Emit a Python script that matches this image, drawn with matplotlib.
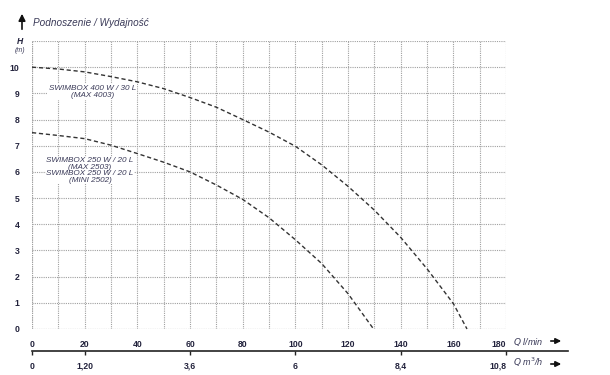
import numpy as np
import matplotlib
matplotlib.use("Agg")
from matplotlib import pyplot as plt
from matplotlib import transforms

plt.rcParams['font.family'] = ['Liberation Sans', 'DejaVu Sans']

# flow in l/min and head in m
q_400 = [0, 10, 20, 30, 40, 50, 60, 70, 80, 90, 100, 110, 120, 130, 140, 150, 160, 165.2]
h_400 = [10, 9.93, 9.82, 9.64, 9.44, 9.18, 8.84, 8.47, 8.0, 7.52, 6.98, 6.27, 5.45, 4.54, 3.5, 2.3, 0.97, 0]

q_250 = [0, 10, 20, 30, 40, 50, 60, 70, 80, 90, 100, 110, 120, 129.7]
h_250 = [7.5, 7.39, 7.27, 7.02, 6.7, 6.37, 6.0, 5.5, 4.95, 4.25, 3.41, 2.5, 1.35, 0]

x_ticks = [0, 20, 40, 60, 80, 100, 120, 140, 160, 180]
m3h_ticks = [0, 1.2, 3.6, 6, 8.4, 10.8]
m3h_labels = ["0", "1,20", "3,6", "6", "8,4", "10,8"]

label_400 = "SWIMBOX 400 W / 30 L\n(MAX 4003)"
label_250 = "SWIMBOX 250 W / 20 L\n(MAX 2503)\nSWIMBOX 250 W / 20 L\n(MINI 2502)"

navy = "#22223c"
txt = "#3a3a58"
gridc = "#a0a0a0"

fig = plt.figure(figsize=(6.1, 3.75), dpi=100)
ax = fig.add_axes([0.0525, 0.1227, 0.777, 0.768])

ax.set_xlim(0, 180)
ax.set_ylim(0, 11)
ax.set_xticks(np.arange(0, 181, 10))
ax.set_yticks(np.arange(0, 12, 1))
ax.grid(True, color=gridc, linestyle=(0, (1, 1)), linewidth=0.8)
for s in ax.spines.values():
    s.set_visible(False)
ax.axhline(0, color=gridc, linestyle=(0, (1, 1)), linewidth=0.8)
ax.axvline(0, color=gridc, linestyle=(0, (1, 1)), linewidth=0.8)

ax.set_xticklabels(["" if v not in x_ticks else str(v) for v in range(0, 181, 10)])
ax.set_yticklabels(["" if v > 10 else str(v) for v in range(12)])
ax.tick_params(axis="both", length=0, labelsize=6.2, labelcolor=navy)
ax.tick_params(axis="x", pad=8)
ax.tick_params(axis="y", pad=9)
for t in ax.get_xticklabels() + ax.get_yticklabels():
    t.set_fontweight("bold")
ax.get_xticklabels()[-1].set_transform(
    ax.get_xticklabels()[-1].get_transform() + transforms.ScaledTranslation(-7 / 100, 0, fig.dpi_scale_trans))

ax.plot(q_400, h_400, color="#333333", linestyle=(0, (3, 2)), linewidth=1.0, clip_on=False)
ax.plot(q_250, h_250, color="#333333", linestyle=(0, (3, 2)), linewidth=1.0, clip_on=False)

ax.text(23, 9.05, label_400, ha="center", va="center", fontsize=5.9, style="italic",
        color=txt, linespacing=1.0,
        bbox=dict(facecolor="white", edgecolor="none", pad=0.5))
ax.text(22, 6.05, label_250, ha="center", va="center", fontsize=5.9, style="italic",
        color=txt, linespacing=0.9,
        bbox=dict(facecolor="white", edgecolor="none", pad=0.5))

# second flow scale in m3/h
sec = ax.secondary_xaxis(-0.075, functions=(lambda x: x * 0.06, lambda x: x / 0.06))
sec.set_xticks(m3h_ticks)
sec.set_xticklabels(m3h_labels)
sec.spines["bottom"].set_visible(False)
sec.tick_params(length=3, width=1, color="#222222", labelsize=6.2, labelcolor=navy, pad=5)
for t in sec.get_xticklabels():
    t.set_fontweight("bold")
last = sec.get_xticklabels()[-1]
last.set_transform(last.get_transform() + transforms.ScaledTranslation(-8 / 100, 0, fig.dpi_scale_trans))
ax.plot([0, 1.131], [-0.0753, -0.0753], transform=ax.transAxes, color="#222222",
        linewidth=1.2, clip_on=False)

# axis names
fig.text(20 / 610, 1 - 42 / 375, "H", fontsize=6.2, fontweight="bold", style="italic",
         color=navy, ha="center", va="center")
fig.text(20 / 610, 1 - 50 / 375, "(m)", fontsize=5, style="italic",
         color=txt, ha="center", va="center")
fig.text(513 / 610, 1 - 342 / 375, r"$\bf{\it{Q}}$ l/min", fontsize=6.5, style="italic",
         color=txt, ha="left", va="center")
fig.text(513 / 610, 1 - 362 / 375, r"$\bf{\it{Q}}$ m$^3$/h", fontsize=6.5, style="italic",
         color=txt, ha="left", va="center")
for yy in (341, 364):
    ax.annotate("", xy=(564 / 610, 1 - yy / 375), xytext=(548 / 610, 1 - yy / 375),
                xycoords="figure fraction",
                arrowprops=dict(arrowstyle="-|>", color="#111111", lw=1.2, mutation_scale=8))

# title with up arrow
ax.annotate("", xy=(22 / 610, 1 - 11 / 375), xytext=(22 / 610, 1 - 32 / 375),
            xycoords="figure fraction",
            arrowprops=dict(arrowstyle="-|>", color="#111111", lw=1.2, mutation_scale=10))
fig.text(33 / 610, 1 - 23 / 375, "Podnoszenie / Wydajność", fontsize=7.2, style="italic",
         color=txt, ha="left", va="center")

fig.savefig("out.png", dpi=100)
